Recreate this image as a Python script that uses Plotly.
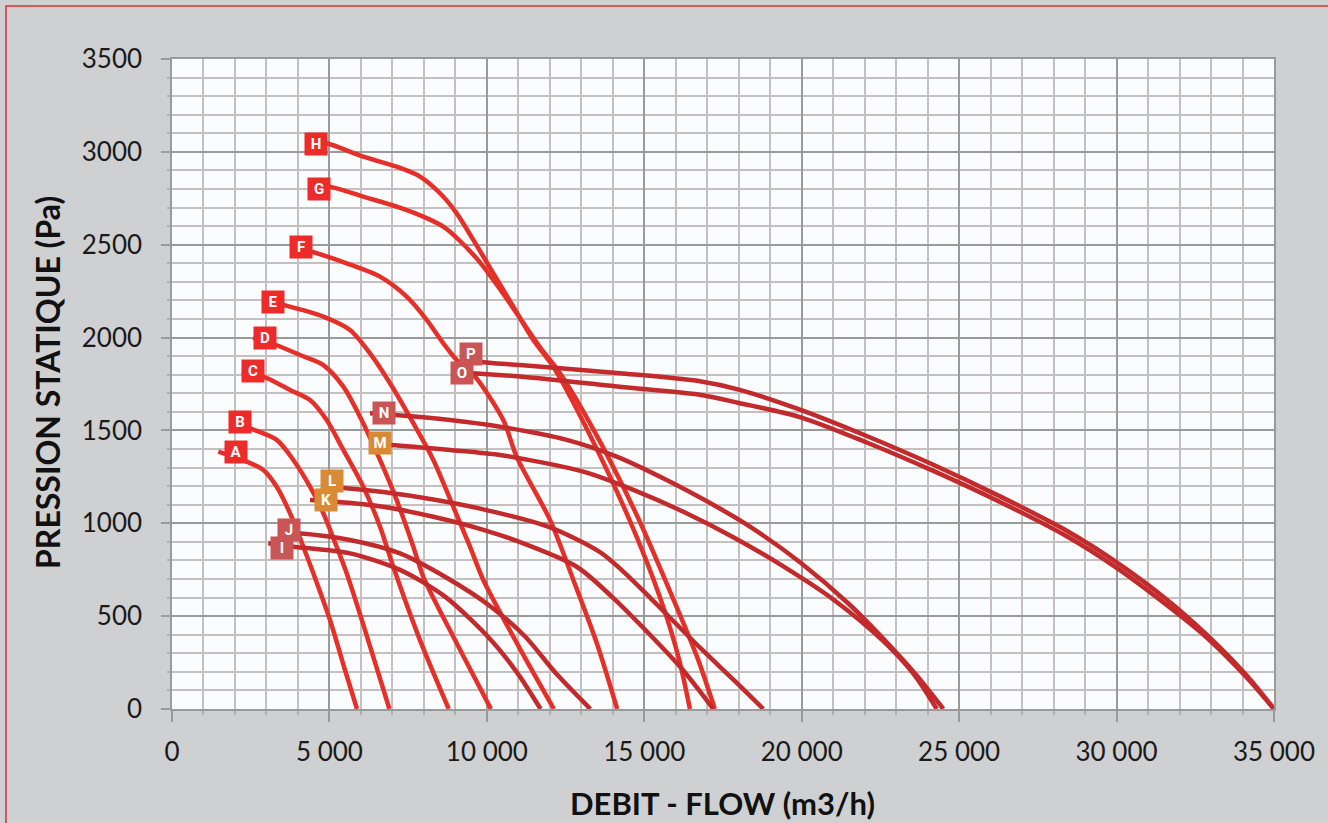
import plotly.graph_objects as go

# ---- data (flow m3/h, static pressure Pa) ----
names = ["A", "B", "C", "D", "E", "F", "G", "H", "I", "J", "K", "L", "M", "N", "O", "P"]

A_q = [1470, 2373, 2900, 3325, 3748, 4170, 4488, 5018, 5494, 5875]
A_p = [1386, 1332, 1287, 1197, 1054, 874, 731, 479, 210, 0]
B_q = [2100, 2477, 3325, 3853, 4383, 4806, 5230, 5548, 6130, 6905]
B_p = [1535, 1511, 1449, 1341, 1197, 1054, 874, 731, 425, 0]
C_q = [2214, 2900, 3748, 4383, 4913, 5441, 6076, 6606, 7028, 7876, 8790]
C_p = [1811, 1790, 1718, 1664, 1556, 1395, 1197, 982, 766, 371, 0]
D_q = [2573, 3303, 4065, 4806, 5441, 5971, 6606, 7136, 7664, 7981, 8990, 10130]
D_p = [1998, 1960, 1906, 1852, 1736, 1574, 1341, 1125, 874, 712, 371, 0]
E_q = [2858, 3535, 4806, 5653, 6289, 6924, 7664, 8299, 8934, 9464, 9887, 11000, 12130]
E_p = [2202, 2176, 2113, 2041, 1915, 1754, 1539, 1341, 1089, 874, 695, 340, 0]
F_q = [3811, 4437, 5548, 6606, 7454, 8089, 8617, 9042, 9623, 10522, 10947, 12005, 12746, 13500, 14140]
F_p = [2488, 2462, 2400, 2328, 2220, 2095, 1969, 1879, 1790, 1556, 1358, 1018, 695, 350, 0]
G_q = [4383, 5018, 6076, 7136, 7981, 8617, 9147, 9782, 10417, 11052, 11688, 12323, 13400, 14800, 15900, 16700, 17240]
G_p = [2830, 2813, 2759, 2705, 2651, 2597, 2520, 2405, 2260, 2105, 1948, 1808, 1500, 1030, 600, 270, 0]
H_q = [4288, 4913, 6076, 7136, 7876, 8512, 9042, 9570, 10205, 10840, 11475, 12110, 13200, 14500, 15500, 16100, 16450]
H_p = [3060, 3046, 2974, 2920, 2867, 2777, 2669, 2526, 2346, 2166, 1987, 1843, 1500, 1030, 600, 270, 0]
I_q = [3058, 3853, 5653, 7241, 8670, 10128, 10976, 11707]
I_p = [892, 874, 838, 749, 605, 372, 192, 0]
J_q = [3398, 4024, 5653, 7241, 8670, 10128, 11221, 12193, 13288]
J_p = [950, 946, 910, 838, 712, 551, 389, 192, 0]
K_q = [4383, 5230, 6711, 8299, 9887, 10947, 12853, 14000, 15181, 16200, 17192]
K_p = [1125, 1116, 1089, 1035, 965, 905, 766, 600, 400, 215, 0]
L_q = [4859, 5441, 6711, 8299, 9887, 12005, 13593, 14334, 15181, 16769, 17880, 18780]
L_p = [1195, 1190, 1168, 1128, 1075, 978, 845, 740, 600, 330, 150, 0]
M_q = [6289, 6946, 8829, 10417, 13063, 14652, 16240, 17827, 19415, 21003, 22592, 23545, 24288]
M_p = [1427, 1422, 1395, 1368, 1278, 1180, 1062, 925, 768, 590, 365, 190, 0]
N_q = [6289, 7082, 8829, 10417, 12535, 14123, 15711, 17300, 18357, 19945, 21533, 22804, 23651, 24497]
N_p = [1592, 1583, 1556, 1520, 1449, 1359, 1233, 1089, 982, 790, 560, 340, 180, 0]
O_q = [8925, 9550, 11052, 14229, 16769, 18000, 19945, 22063, 24180, 26297, 28415, 30003, 31591, 32862, 34132, 35000]
O_p = [1812, 1808, 1790, 1735, 1692, 1648, 1572, 1435, 1282, 1115, 930, 760, 560, 385, 170, 0]
P_q = [9337, 9782, 11052, 14229, 16769, 18000, 19945, 22063, 24180, 26297, 28415, 30003, 31591, 32862, 34132, 35000]
P_p = [1890, 1870, 1852, 1808, 1765, 1720, 1612, 1470, 1315, 1145, 960, 790, 590, 400, 180, 0]

# label positions (centre of the tag)
label_q = [2033, 2160, 2557, 2954, 3208, 4097, 4669, 4573, 3509, 3700, 4891, 5097, 6606, 6733, 9226, 9512]
label_p = [1384, 1545, 1820, 2000, 2189, 2488, 2800, 3043, 867, 964, 1125, 1228, 1435, 1594, 1807, 1909]

x_ticks = [0, 5000, 10000, 15000, 20000, 25000, 30000, 35000]
x_ticktext = ["0", "5 000", "10 000", "15 000", "20 000", "25 000", "30 000", "35 000"]
y_ticks = [0, 500, 1000, 1500, 2000, 2500, 3000, 3500]

curves = {
    "A": (A_q, A_p), "B": (B_q, B_p), "C": (C_q, C_p), "D": (D_q, D_p),
    "E": (E_q, E_p), "F": (F_q, F_p), "G": (G_q, G_p), "H": (H_q, H_p),
    "I": (I_q, I_p), "J": (J_q, J_p), "K": (K_q, K_p), "L": (L_q, L_p),
    "M": (M_q, M_p), "N": (N_q, N_p), "O": (O_q, O_p), "P": (P_q, P_p),
}

bright = "#e5302a"
dark = "#c22a2c"
line_col = {n: (bright if n in "ABCDEFGH" else dark) for n in names}
tag_col = {}
for n in names:
    if n in "ABCDEFGH":
        tag_col[n] = "#ee2b2b"
    elif n in "KLM":
        tag_col[n] = "#d98a35"
    else:
        tag_col[n] = "#c95556"

fig = go.Figure()
for n in names:
    q, p = curves[n]
    fig.add_trace(go.Scatter(
        x=q, y=p, mode="lines", name=n,
        line=dict(color=line_col[n], width=4.5, shape="spline", smoothing=0.8),
        showlegend=False, hoverinfo="x+y+name",
    ))

annotations = []
for n, lq, lp in zip(names, label_q, label_p):
    annotations.append(dict(
        x=lq, y=lp, xref="x", yref="y", text="<b>%s</b>" % n, showarrow=False,
        bgcolor=tag_col[n], font=dict(color="white", size=15, family="Roboto"),
        width=18, height=18, borderpad=2, align="center", valign="middle",
    ))

annotations.append(dict(
    x=(722 - 172) / 1102, y=(709 - 803) / 650, xref="paper", yref="paper",
    text="<b>DEBIT - FLOW (m3/h)</b>",
    showarrow=False, font=dict(size=31, color="#111111", family="Lato"),
    xanchor="center", yanchor="middle",
))
annotations.append(dict(
    x=(47 - 172) / 1102, y=(709 - 383) / 650, xref="paper", yref="paper",
    text="<b>PRESSION STATIQUE (Pa)</b>",
    showarrow=False, textangle=-90, font=dict(size=32, color="#111111", family="Lato"),
    xanchor="center", yanchor="middle",
))

shapes = [dict(
    type="rect", xref="paper", yref="paper",
    x0=(6 - 172) / 1102, x1=(1340 - 172) / 1102,
    y0=(709 - 840) / 650, y1=(709 - 6) / 650,
    line=dict(color="#d6333d", width=1.5), fillcolor="rgba(0,0,0,0)", layer="below",
)]

fig.update_layout(
    width=1328, height=823,
    margin=dict(l=172, r=54, t=59, b=114),
    paper_bgcolor="#cfd0d2", plot_bgcolor="#fbfcfe",
    font=dict(family="Lato", color="#1a1a1a"),
    annotations=annotations, shapes=shapes,
    xaxis=dict(
        range=[0, 35000], tickvals=x_ticks, ticktext=x_ticktext,
        tickfont=dict(size=26, color="#1a1a1a"),
        showgrid=True, gridcolor="#9a9a9a", gridwidth=1.5,
        ticks="outside", ticklen=11, tickcolor="#9a9a9a", tickwidth=1.5,
        ticklabelstandoff=8,
        showline=True, linecolor="#9a9a9a", linewidth=1.5, mirror=True,
        zeroline=False, fixedrange=True,
        minor=dict(dtick=1000, showgrid=True, gridcolor="#c4c0c0", gridwidth=1.5,
                   ticks="outside", ticklen=4, tickcolor="#b0b0b0"),
    ),
    yaxis=dict(
        range=[0, 3500], tickvals=y_ticks,
        tickfont=dict(size=26, color="#1a1a1a"),
        showgrid=True, gridcolor="#9a9a9a", gridwidth=1.5,
        ticks="outside", ticklen=9, tickcolor="#9a9a9a", tickwidth=1.5,
        ticklabelstandoff=14,
        showline=True, linecolor="#9a9a9a", linewidth=1.5, mirror=True,
        zeroline=False, fixedrange=True,
        minor=dict(dtick=100, showgrid=True, gridcolor="#c4c0c0", gridwidth=1.5,
                   ticks="outside", ticklen=3, tickcolor="#b0b0b0"),
    ),
)

fig.write_html(
    "out.html",
    config={"displayModeBar": False},
    post_script="document.body.style.margin='0px';document.body.style.overflow='hidden';",
)
